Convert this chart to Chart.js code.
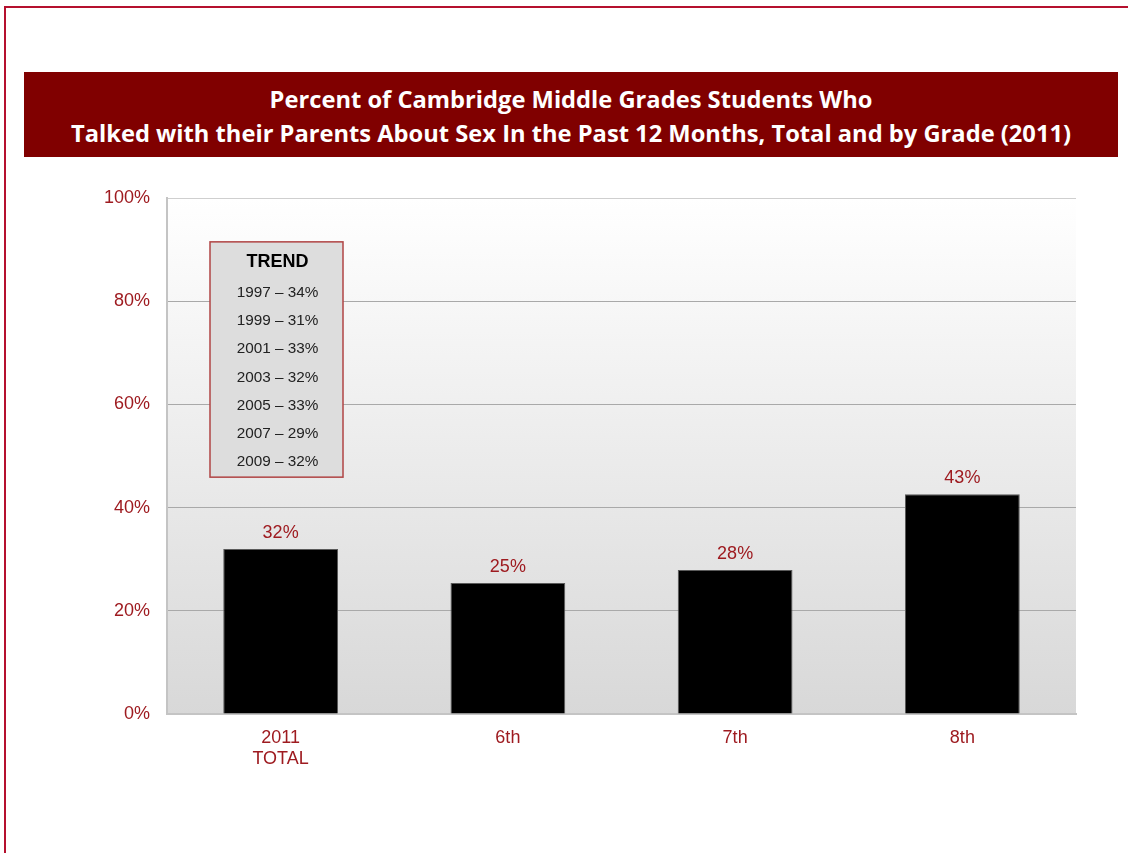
<!DOCTYPE html>
<html>
<head>
<meta charset="utf-8">
<script src="https://cdn.jsdelivr.net/npm/chart.js@4/dist/chart.umd.min.js"></script>
<style>
  html, body { margin: 0; padding: 0; background: #fff; }
  #page { position: relative; width: 1128px; height: 853px; overflow: hidden; }
  #frame { position: absolute; left: 4px; top: 6px; width: 1200px; height: 900px;
           border-top: 2px solid #b5102e; border-left: 2px solid #b5102e; }
  #banner { position: absolute; left: 24px; top: 72px; width: 1094px; height: 85px;
            background: #800000; color: #fff; text-align: center;
            font-family: "Open Sans", sans-serif; font-weight: 700; font-size: 23.7px;
            line-height: 34px; padding-top: 10px; box-sizing: border-box; }
  canvas { position: absolute; left: 0; top: 0; }
</style>
</head>
<body>
<div id="page">
  <div id="frame"></div>
  <div id="banner">Percent of Cambridge Middle Grades Students Who<br>Talked with their Parents About Sex In the Past 12 Months, Total and by Grade (2011)</div>
  <canvas id="chart" width="1128" height="853"></canvas>
</div>
<script>
var grades = [['2011', 'TOTAL'], '6th', '7th', '8th'];
var percents = [32, 25.4, 27.9, 42.6];
var yTicks = [0, 20, 40, 60, 80, 100];

var trendYears = ['1997', '1999', '2001', '2003', '2005', '2007', '2009'];
var trendPercents = [34, 31, 33, 32, 33, 29, 32];

var red = '#9e1b20';
var font = 'Liberation Sans, Arial, sans-serif';

// gradient behind the plot area
var plotBackground = {
	id: 'plotBackground',
	beforeDraw: function(chart) {
		var a = chart.chartArea, ctx = chart.ctx;
		var g = ctx.createLinearGradient(0, a.top, 0, a.bottom);
		g.addColorStop(0, '#ffffff');
		g.addColorStop(1, '#d8d8d8');
		ctx.save();
		ctx.fillStyle = g;
		ctx.fillRect(a.left, a.top, a.right - a.left, a.bottom - a.top);
		ctx.restore();
	}
};

// value labels on top of the bars
var barLabels = {
	id: 'barLabels',
	afterDatasetsDraw: function(chart) {
		var ctx = chart.ctx;
		var meta = chart.getDatasetMeta(0);
		ctx.save();
		ctx.fillStyle = red;
		ctx.font = '18px ' + font;
		ctx.textAlign = 'center';
		ctx.textBaseline = 'middle';
		meta.data.forEach(function(bar, i) {
			ctx.fillText(Math.round(percents[i]) + '%', bar.x, bar.y - 16);
		});
		ctx.restore();
	}
};

// the TREND box in the upper left of the plot
var trendBox = {
	id: 'trendBox',
	afterDraw: function(chart) {
		var a = chart.chartArea, ctx = chart.ctx, y = chart.scales.y;
		var left = a.left + 43, right = a.left + 176;
		var top = y.getPixelForValue(91.5), bottom = y.getPixelForValue(45.9);
		var cx = (left + right) / 2;
		ctx.save();
		ctx.fillStyle = '#dddddd';
		ctx.fillRect(left, top, right - left, bottom - top);
		ctx.strokeStyle = '#b04444';
		ctx.lineWidth = 1.5;
		ctx.strokeRect(left, top, right - left, bottom - top);
		ctx.fillStyle = '#000';
		ctx.textAlign = 'center';
		ctx.textBaseline = 'middle';
		ctx.font = 'bold 18px ' + font;
		ctx.fillText('TREND', cx + 1, top + 20);
		ctx.fillStyle = '#222';
		ctx.font = '15.3px ' + font;
		for (var i = 0; i < trendYears.length; i++) {
			ctx.fillText(trendYears[i] + ' \u2013 ' + trendPercents[i] + '%', cx + 1, top + 51 + i * 28.2);
		}
		ctx.restore();
	}
};

var chart = new Chart(document.getElementById('chart'), {
	type: 'bar',
	data: {
		labels: grades,
		datasets: [{
			data: percents,
			backgroundColor: '#000000',
			borderColor: '#5a5a5a',
			borderWidth: 1,
			categoryPercentage: 1,
			barPercentage: 0.505
		}]
	},
	options: {
		responsive: false,
		animation: false,
		events: [],
		layout: { padding: { top: 198, right: 52, left: 0, bottom: 0 } },
		plugins: { legend: { display: false }, tooltip: { enabled: false } },
		scales: {
			x: {
				grid: { display: false },
				border: { color: '#c4c4c4', width: 2 },
				ticks: { color: red, font: { family: font, size: 18, lineHeight: 1.15 }, padding: 6 },
				afterFit: function(s) { s.height = 139; }
			},
			y: {
				min: 0,
				max: 100,
				afterBuildTicks: function(s) { s.ticks = yTicks.map(function(v) { return { value: v }; }); },
				grid: {
					drawTicks: false,
					color: function(c) { return c.tick.value === 0 ? 'rgba(0,0,0,0)' : (c.tick.value === 100 ? '#cfcfcf' : '#a9a9a9'); },
					lineWidth: 1
				},
				border: { color: '#c4c4c4', width: 2 },
				ticks: {
					color: red,
					font: { family: font, size: 18 },
					padding: 17,
					callback: function(v) { return v + '%'; }
				},
				afterFit: function(s) { s.width = 167; }
			}
		}
	},
	plugins: [plotBackground, barLabels, trendBox]
});
</script>
</body>
</html>
